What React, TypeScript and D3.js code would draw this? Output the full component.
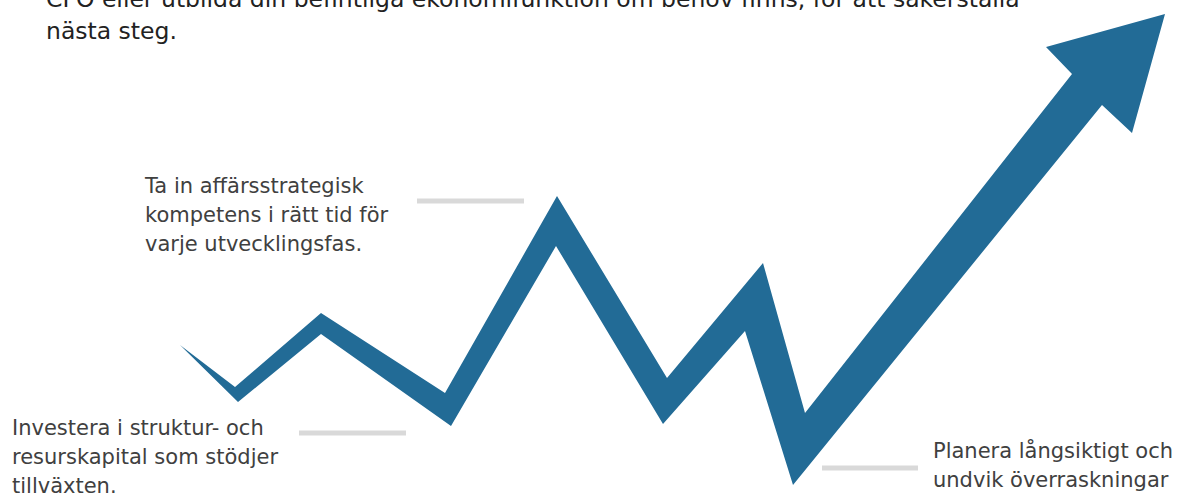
import React from "react";
import * as d3 from "d3";

const W = 1178;
const H = 493;

// Arrow outline in "growth units": x = progress, y = level
const upperEdge: [number, number][] = [
  [0, 140], [55, 98], [141, 172], [265, 92], [377, 289], [487, 107],
  [583, 222], [625, 72], [892, 411], [866, 438], [985, 471], [952, 352], [922, 380],
];
const lowerEdge: [number, number][] = [
  [613, 0], [565, 154], [483, 61], [376, 239], [271, 59], [141, 151], [58, 83],
];

const headerLines = [
  "CFO eller utbilda din befintliga ekonomifunktion om behov finns, för att säkerställa",
  "nästa steg.",
];

const labelTexts: string[][] = [
  ["Ta in affärsstrategisk", "kompetens i rätt tid för", "varje utvecklingsfas."],
  ["Investera i struktur- och", "resurskapital som stödjer", "tillväxten."],
  ["Planera långsiktigt och", "undvik överraskningar"],
];
// label anchors (progress, level) and connector spans
const labelX = [-35, -168, 753];
const labelY = [292, 50, 27];
const connectorFrom = [237, 119, 642];
const connectorTo = [344, 226, 738];
const connectorLevel = [284, 52, 17];

export default function App() {
  const x = d3.scaleLinear().domain([0, 985]).range([180, 1165]);
  const y = d3.scaleLinear().domain([0, 471]).range([485, 14]);
  const line = d3
    .line<[number, number]>()
    .x((d) => x(d[0]))
    .y((d) => y(d[1]))
    .curve(d3.curveLinearClosed);
  const outline = [...upperEdge, ...lowerEdge];

  const lineH = 29;

  return (
    <svg
      width={W}
      height={H}
      style={{ position: "absolute", left: 0, top: 0, background: "#fff" }}
      fontFamily="DejaVu Sans, sans-serif"
    >
      {headerLines.map((t, i) => (
        <text key={i} x={46} y={7 + i * 32} fontSize={23.5} fill="#222">
          {t}
        </text>
      ))}
      {connectorFrom.map((f, i) => (
        <line
          key={i}
          x1={x(f)}
          x2={x(connectorTo[i])}
          y1={y(connectorLevel[i])}
          y2={y(connectorLevel[i])}
          stroke="#d9d9d9"
          strokeWidth={5}
        />
      ))}
      <path d={line(outline) || ""} fill="#226b96" />
      {labelTexts.map((lines, i) => (
        <text key={i} fontSize={21} fill="#404040">
          {lines.map((t, j) => (
            <tspan key={j} x={x(labelX[i])} y={y(labelY[i]) + j * lineH}>
              {t}
            </tspan>
          ))}
        </text>
      ))}
    </svg>
  );
}
